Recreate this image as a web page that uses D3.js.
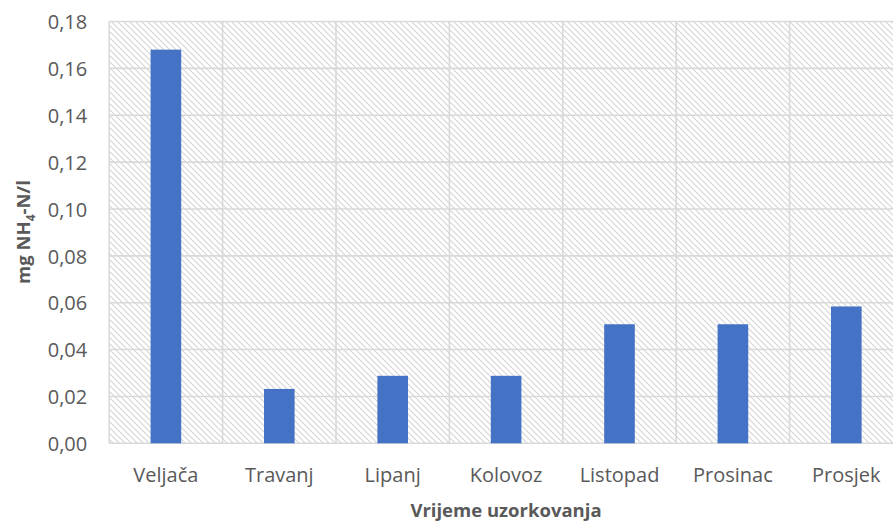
<!DOCTYPE html>
<html><head><meta charset="utf-8">
<script src="https://cdn.jsdelivr.net/npm/d3@7"></script>
<style>body{margin:0;background:#fff}svg{display:block}</style>
</head><body>
<script>
const categories = ["Veljača","Travanj","Lipanj","Kolovoz","Listopad","Prosinac","Prosjek"];
const values = [0.168, 0.0232, 0.0288, 0.0288, 0.0508, 0.0508, 0.0584];
const yTicks = [0,0.02,0.04,0.06,0.08,0.10,0.12,0.14,0.16,0.18];

const W=893,H=524;
const pLeft=109.2, pRight=903, pTop=21.5, pBottom=443.3;
const svg=d3.select("body").append("svg").attr("width",W).attr("height",H);
const defs=svg.append("defs");
const pat=defs.append("pattern").attr("id","hatch").attr("patternUnits","userSpaceOnUse").attr("width",6).attr("height",6);
pat.append("path").attr("d","M0,0L6,6M-1,5L1,7M5,-1L7,1").attr("stroke","#d4d4d4").attr("stroke-width",1.1);

const x=d3.scaleBand().domain(categories).range([pLeft,pRight]).paddingInner(0.73).paddingOuter(0.365);
const xg=d3.scaleBand().domain(categories).range([pLeft,pRight]);
const y=d3.scaleLinear().domain([0,0.18]).range([pBottom,pTop]);

svg.append("rect").attr("x",pLeft).attr("y",pTop).attr("width",pRight-pLeft).attr("height",pBottom-pTop).attr("fill","url(#hatch)");

// grid
svg.append("g").selectAll("line").data(yTicks).join("line")
 .attr("x1",pLeft).attr("x2",pRight).attr("y1",d=>y(d)).attr("y2",d=>y(d))
 .attr("stroke","#d9d9d9").attr("stroke-width",1.6);
svg.append("g").selectAll("line").data(categories.concat(["_end"])).join("line")
 .attr("x1",(d,i)=>pLeft+i*xg.bandwidth()).attr("x2",(d,i)=>pLeft+i*xg.bandwidth())
 .attr("y1",pTop).attr("y2",pBottom).attr("stroke","#d9d9d9").attr("stroke-width",1.6);

// bars
svg.append("g").selectAll("rect").data(values).join("rect")
 .attr("x",(d,i)=>x(categories[i])).attr("width",x.bandwidth())
 .attr("y",d=>y(d)).attr("height",d=>pBottom-y(d)).attr("fill","#4472C4");

// y axis
const fmt=d=>d3.format(".2f")(d).replace(".",",");
const ya=svg.append("g").attr("transform",`translate(${pLeft},0)`)
 .call(d3.axisLeft(y).tickValues(yTicks).tickFormat(fmt).tickSize(0).tickPadding(22));
ya.select(".domain").remove();
ya.selectAll("text").attr("font-family","Open Sans, sans-serif").attr("font-size",20).attr("fill","#595959").attr("dy","0.36em");

// x axis
const xa=svg.append("g").attr("transform",`translate(0,${pBottom})`)
 .call(d3.axisBottom(xg).tickSize(0));
xa.select(".domain").remove();
xa.selectAll("text").attr("font-family","Open Sans, sans-serif").attr("font-size",20).attr("fill","#595959")
 .attr("dy",0).attr("y",38.7);

// titles
svg.append("text").attr("x",506).attr("y",517).attr("text-anchor","middle")
 .attr("font-family","Open Sans, sans-serif").attr("font-weight","bold").attr("font-size",18.5).attr("fill","#595959")
 .text("Vrijeme uzorkovanja");
const yt=svg.append("text").attr("transform","translate(30,232) rotate(-90)").attr("text-anchor","middle")
 .attr("font-family","Open Sans, sans-serif").attr("font-weight","bold").attr("font-size",18.5).attr("fill","#595959");
yt.append("tspan").text("mg NH");
yt.append("tspan").attr("font-size",12).attr("dy",5).text("4");
yt.append("tspan").attr("dy",-5).text("-N/l");
</script>
</body></html>
